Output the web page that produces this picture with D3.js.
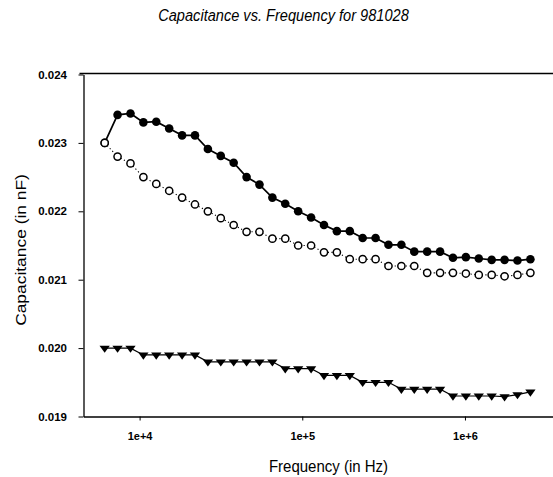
<!DOCTYPE html>
<html>
<head>
<meta charset="utf-8">
<script src="https://cdn.jsdelivr.net/npm/d3@7"></script>
<style>
  body { margin: 0; background: #fff; }
  text { font-family: "Liberation Sans", Arial, sans-serif; fill: #000; }
</style>
</head>
<body>
<svg id="chart" width="553" height="477"></svg>
<script>
// frequencies (Hz)
const freqs = [6100, 7320, 8790, 10550, 12660, 15200, 18250, 21900, 26290, 31550,
  37870, 45460, 54560, 65490, 78600, 94360, 113300, 136000, 163200, 195900,
  235100, 282200, 338700, 406600, 488000, 585800, 703100, 843900, 1013000, 1216000,
  1460000, 1752000, 2103000, 2525000];

// filled circles
const capFilled = [0.0230, 0.02341, 0.02343, 0.02330, 0.02331, 0.02321, 0.02311, 0.02311, 0.02291, 0.02281,
  0.02271, 0.02250, 0.02239, 0.02220, 0.02211, 0.02200, 0.02191, 0.02180, 0.02171, 0.02171,
  0.02161, 0.02161, 0.02151, 0.02151, 0.02141, 0.02141, 0.02141, 0.02132, 0.02133, 0.02131,
  0.02129, 0.02129, 0.02128, 0.02130];

// open circles
const capOpen = [0.0230, 0.0228, 0.0227, 0.0225, 0.0224, 0.0223, 0.0222, 0.0221, 0.0220, 0.0219,
  0.0218, 0.0217, 0.0217, 0.0216, 0.0216, 0.0215, 0.0215, 0.0214, 0.0214, 0.0213,
  0.0213, 0.0213, 0.0212, 0.0212, 0.0212, 0.0211, 0.0211, 0.0211, 0.02109, 0.02107,
  0.02107, 0.02105, 0.02107, 0.02110];

// down triangles
const capTri = [0.0200, 0.0200, 0.0200, 0.0199, 0.0199, 0.0199, 0.0199, 0.0199, 0.0198, 0.0198,
  0.0198, 0.0198, 0.0198, 0.0198, 0.0197, 0.0197, 0.0197, 0.0196, 0.0196, 0.0196,
  0.0195, 0.0195, 0.0195, 0.0194, 0.0194, 0.0194, 0.0194, 0.0193, 0.0193, 0.0193,
  0.0193, 0.01929, 0.01932, 0.01936];

const xTicks = [1e4, 1e5, 1e6];
const xTickLabels = ["1e+4", "1e+5", "1e+6"];
const yTicks = [0.019, 0.020, 0.021, 0.022, 0.023, 0.024];

const svg = d3.select("#chart");
const margin = {left: 83.5, right: -19, top: 73.5, bottom: 60.5};
const width = +svg.attr("width");
const height = +svg.attr("height");

const x = d3.scaleLog()
  .domain([4520, 4.55e6])
  .range([margin.left, width - margin.right]);

const y = d3.scaleLinear()
  .domain([0.019, 0.024])
  .range([height - margin.bottom, margin.top + 1]);

// the scan is a bit taller than wide, so text gets a small vertical stretch
const stretch = 1.16;

// title
svg.append("text")
  .attr("transform", `translate(283.5, 20.5) scale(1, ${stretch})`)
  .attr("text-anchor", "middle")
  .attr("font-size", 14.6)
  .attr("font-style", "italic")
  .text("Capacitance vs. Frequency for 981028");

// frame top line
svg.append("line")
  .attr("x1", margin.left - 4).attr("x2", width - margin.right)
  .attr("y1", margin.top).attr("y2", margin.top)
  .attr("stroke", "#000").attr("stroke-width", 1.3);

// x axis
const xAxis = svg.append("g")
  .attr("transform", `translate(0, ${height - margin.bottom})`)
  .call(d3.axisBottom(x).tickValues(xTicks).tickFormat((d, i) => xTickLabels[i])
    .tickSizeInner(4).tickSizeOuter(0).tickPadding(12));
xAxis.select(".domain").attr("stroke-width", 1.3);
xAxis.selectAll("text")
  .attr("font-size", 11).attr("font-weight", "bold")
  .attr("font-family", "Liberation Sans, Arial, sans-serif");

// y axis
const yAxis = svg.append("g")
  .attr("transform", `translate(${margin.left}, 0)`)
  .call(d3.axisLeft(y).tickValues(yTicks).tickFormat(d3.format(".3f"))
    .tickSizeInner(5).tickSizeOuter(0).tickPadding(11.5));
yAxis.select(".domain").attr("stroke-width", 1.3);
yAxis.selectAll("text")
  .attr("font-size", 11.5).attr("font-weight", "bold")
  .attr("font-family", "Liberation Sans, Arial, sans-serif");

// axis labels
svg.append("text")
  .attr("transform", `translate(328.5, 471.5) scale(1, ${stretch})`)
  .attr("text-anchor", "middle")
  .attr("font-size", 15)
  .text("Frequency (in Hz)");

svg.append("text")
  .attr("transform", `translate(26, 250) rotate(-90) scale(${stretch}, 1)`)
  .attr("text-anchor", "middle")
  .attr("font-size", 15)
  .text("Capacitance (in nF)");

function drawLine(vals, width, dash) {
  const line = d3.line()
    .x((d, i) => x(freqs[i]))
    .y(d => y(d));
  svg.append("path")
    .datum(vals)
    .attr("fill", "none")
    .attr("stroke", "#000")
    .attr("stroke-width", width)
    .attr("stroke-dasharray", dash)
    .attr("d", line);
}

drawLine(capTri, 1.2, null);
drawLine(capFilled, 1.7, null);
drawLine(capOpen, 1.1, "1.2,2.5");

// triangles (flattened a little, like the scan)
const tri = d3.symbol().type(d3.symbolTriangle).size(46);
svg.append("g").selectAll("path")
  .data(capTri)
  .enter().append("path")
  .attr("d", tri)
  .attr("transform", (d, i) => `translate(${x(freqs[i])}, ${y(d)}) scale(1, -0.8)`)
  .attr("fill", "#000");

// filled circles
svg.append("g").selectAll("circle")
  .data(capFilled)
  .enter().append("circle")
  .attr("cx", (d, i) => x(freqs[i]))
  .attr("cy", d => y(d))
  .attr("r", 4.3)
  .attr("fill", "#000");

// open circles
svg.append("g").selectAll("circle")
  .data(capOpen)
  .enter().append("circle")
  .attr("cx", (d, i) => x(freqs[i]))
  .attr("cy", d => y(d))
  .attr("r", 3.6)
  .attr("fill", "#fff")
  .attr("stroke", "#000")
  .attr("stroke-width", 1.5);
</script>
</body>
</html>
